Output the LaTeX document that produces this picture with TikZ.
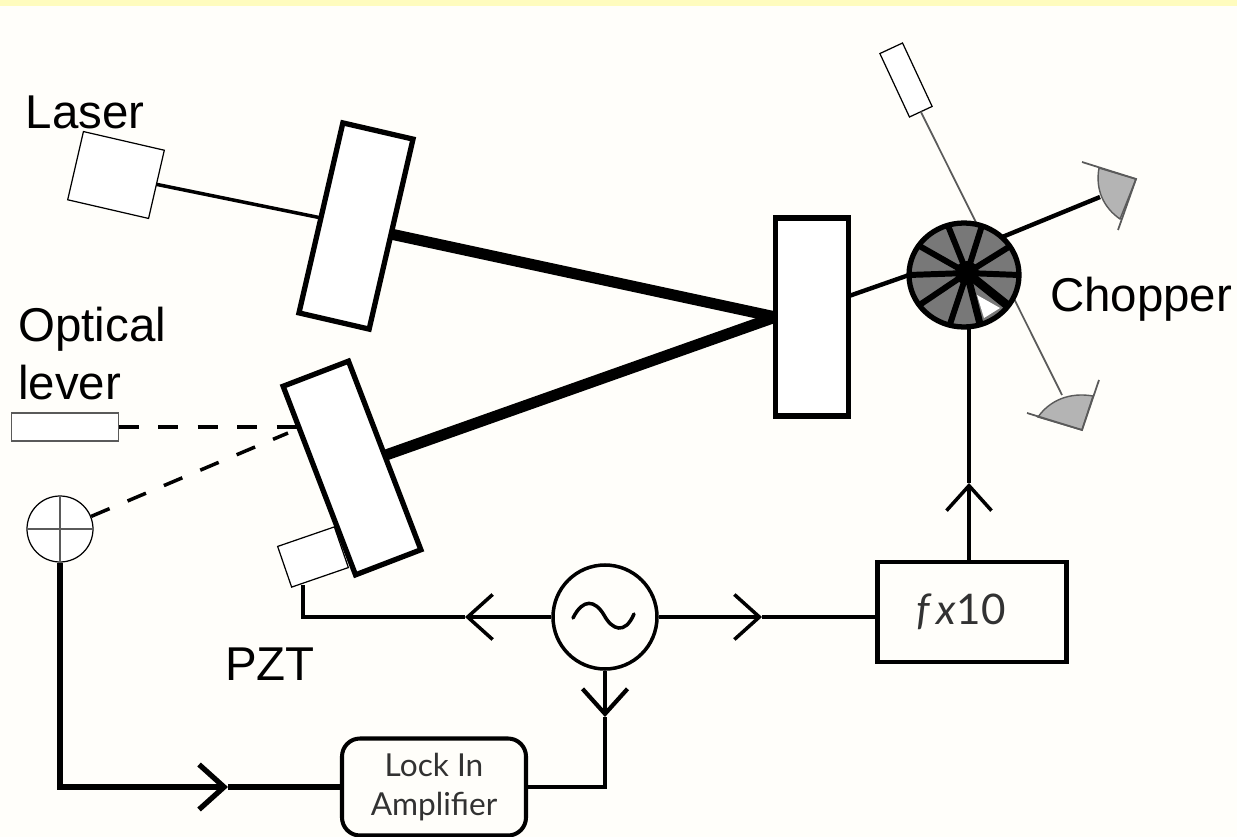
\documentclass[tikz,border=0pt]{standalone}
\usepackage{fontspec}
\usepackage{xcolor}
\usepackage{tikz}
\usetikzlibrary{shapes.geometric, arrows.meta}
\setmainfont{Liberation Sans}
\newfontfamily\boxfont{Lato}
\definecolor{paper}{RGB}{255, 254, 250}
\definecolor{bandyellow}{RGB}{255, 252, 190}
\definecolor{wheelgray}{RGB}{120, 120, 120}
\definecolor{cupgray}{RGB}{180, 180, 180}
\definecolor{thingray}{RGB}{90, 90, 90}
\definecolor{boxtext}{RGB}{50, 50, 50}

\begin{document}
\begin{tikzpicture}[
    x=0.2mm, y=-0.2mm,
    mirror/.style={rectangle, draw=black, fill=white, inner sep=0pt, outer sep=0pt, line width=3pt},
    thinbox/.style={rectangle, draw=black, fill=white, inner sep=0pt, outer sep=0pt, line width=0.7pt},
    beam/.style={line width=6.3pt},
    wire/.style={line width=2pt},
    power/.style={line width=3pt},
    dashline/.style={line width=2pt, dash pattern=on 4mm off 3.9mm},
    chev/.style={-{Straight Barb[length=5mm, width=9mm]}},
    cup/.style={fill=cupgray, line width=0.8pt},
    cupedge/.style={draw=thingray, line width=1pt},
    tag/.style={font=\fontsize{27}{33}\selectfont, inner sep=0pt, align=left}
]

\useasboundingbox (0,0) rectangle (1237,837);
\fill[paper] (0,0) rectangle (1237,837);
\fill[bandyellow] (0,0) rectangle (1237,6);

\node[mirror, minimum width=72*0.2mm, minimum height=195*0.2mm, rotate=-13] (mirrorA) at (356,226) {};
\node[mirror, minimum width=70*0.2mm, minimum height=202*0.2mm, rotate=21] (mirrorB) at (352,468) {};
\node[mirror, minimum width=73*0.2mm, minimum height=198*0.2mm] (mirrorC) at (812,317) {};

\node[thinbox, minimum width=83*0.2mm, minimum height=70*0.2mm, rotate=-13] (laser) at (116,175) {};
\node[thinbox, draw=thingray, line width=1pt, minimum width=107*0.2mm, minimum height=28*0.2mm] (lever) at (65,427) {};
\node[circle, draw=black, line width=0.7pt, fill=white, inner sep=0pt, minimum size=66*0.2mm] (quad) at (60,529) {};
\node[thinbox, minimum width=60*0.2mm, minimum height=43*0.2mm, rotate=19] (pzt) at (313,557) {};
\node[thinbox, minimum width=25*0.2mm, minimum height=70*0.2mm, rotate=25] (probe) at (906,80) {};

\node[circle, draw=black, wire, inner sep=0pt, minimum size=104*0.2mm] (osc) at (605,617) {};
\node[rectangle, draw=black, wire, line width=2.3pt, inner sep=0pt, minimum width=189*0.2mm, minimum height=100*0.2mm,
      text=boxtext, font=\boxfont\fontsize{24}{28}\selectfont] (mult) at (972,612) {\textit{f\,x}10\hspace*{4.4mm}};
\node[rectangle, rounded corners=3.6mm, draw=black, wire, line width=2.3pt, inner sep=0pt, minimum width=184*0.2mm, minimum height=97*0.2mm,
      align=center, text=boxtext, font=\boxfont\fontsize{18}{22}\selectfont] (lockin) at (434,787) {Lock In\\Amplifier};

\coordinate (mirrorCout) at (849,296);
\coordinate (cupAfoot) at (1100,197);
\coordinate (cupBfoot) at (1062,395);
\coordinate (pztfoot) at (303,585);
\coordinate (tipLeft) at (465,617);
\coordinate (tipRight) at (762,617);
\coordinate (tipUp) at (969,483);
\coordinate (tipDown) at (605,717);
\coordinate (tipIn) at (228,787);
\coordinate (leverspot) at (297,427);
\coordinate (quadspot) at (288,433);
\coordinate (hub) at (967,273);

% cups at the far end of the two chopped arms
\filldraw[cup, draw=thingray] (1099,168) .. controls (1095,190) and (1104,208) .. (1120,219) -- (1136,179) -- cycle;
\filldraw[cup, draw=thingray] (1038,417) .. controls (1050,400) and (1070,392) .. (1093,396) -- (1082,430) -- cycle;
\draw[cupedge] (1082,162) -- (1136,179) -- (1118,230);
\draw[cupedge] (1027,413) -- (1082,430) -- (1099,380);

\draw[line width=1pt, color=thingray] (probe.south) -- (cupBfoot);

\draw[wire] (laser.east) -- (mirrorA.west);
\draw[beam] (mirrorA.east) -- (mirrorC.west);
\draw[beam] (mirrorB.east) -- (mirrorC.west);
\draw[dashline] (lever.east) -- (leverspot);
\draw[dashline] (quad.22) -- (quadspot);
\draw[line width=0.7pt, color=thingray] (quad.north) -- (quad.south);
\draw[line width=0.7pt, color=thingray] (quad.west) -- (quad.east);

\node[ellipse, draw=black, fill=wheelgray, line width=3pt, inner sep=0pt, outer sep=0pt,
      minimum width=110*0.2mm, minimum height=104*0.2mm] (chopper) at (964,275) {};
\fill[white] (977,295) -- (1000,308) -- (984,318) -- cycle;
\foreach \spoke in {0,32,70,108,147,180,214,254}
    \draw[line width=3.4pt] (hub) -- (chopper.\spoke);
\draw[line width=4pt] (hub) -- (chopper.288);
\draw[line width=5pt] (hub) -- (chopper.325);
\fill (hub) circle (12);
\draw[line width=2.5pt] (mirrorCout) -- (chopper.west);
\draw[line width=2.5pt] (chopper.45) -- (cupAfoot);

\draw[wire, line cap=round] (573,618) .. controls (583,598) and (595,600) .. (604,615) .. controls (612,630) and (625,635) .. (634,614);

\draw[wire, chev] (osc.west) -- (tipLeft);
\draw[wire] (tipLeft) -| (pztfoot);
\draw[wire, chev] (osc.east) -- (tipRight);
\draw[wire] (tipRight) -- (mult.west |- tipRight);
\draw[wire, line width=2.4pt, chev] (osc.south) -- (tipDown);
\draw[wire, line width=2.4pt] (tipDown) |- (lockin.east);
\draw[power, chev] (quad.south) |- (tipIn);
\draw[power] (tipIn) -- (lockin.west);
\draw[wire, chev] (mult.north -| tipUp) -- (tipUp);
\draw[wire] (tipUp) -- (tipUp |- chopper.south);

\node[tag] (laserTag) at (85,112) {Laser};
\node[tag, anchor=west] (leverTag) at (18,354) {Optical\\lever};
\node[tag] (chopperTag) at (1141,299) {Chopper};
\node[tag] (pztTag) at (270,664) {PZT};

\end{tikzpicture}
\end{document}
